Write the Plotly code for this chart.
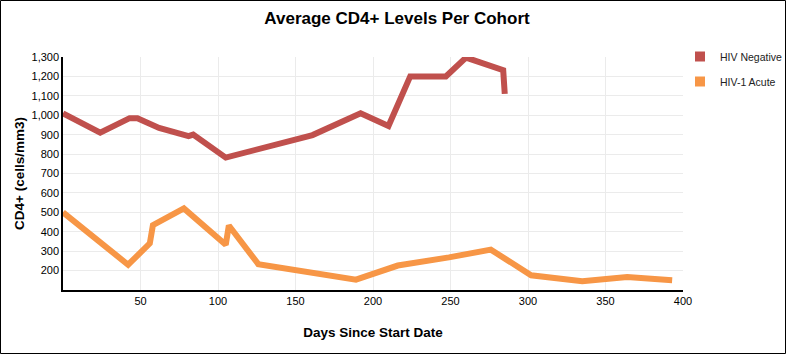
import plotly.graph_objects as go

# ---- data ----
neg_days = [0, 24, 43, 48, 62, 81, 84, 105, 161, 192, 210, 224, 247, 260, 284, 285]
neg_cd4 = [1010, 910, 985, 985, 935, 892, 900, 782, 898, 1010, 945, 1200, 1200, 1297, 1232, 1110]

acute_days = [0, 42, 56, 58, 78, 105, 107, 126, 189, 216, 249, 276, 302, 335, 364, 393]
acute_cd4 = [500, 230, 340, 434, 520, 333, 432, 233, 153, 226, 268, 308, 176, 145, 167, 150]

series_names = ["HIV Negative", "HIV-1 Acute"]
series_colors = ["#C0504D", "#F79646"]

x_ticks = [50, 100, 150, 200, 250, 300, 350, 400]
y_ticks = [200, 300, 400, 500, 600, 700, 800, 900, 1000, 1100, 1200, 1300]

W, H = 786, 354
ML, MR, MT, MB = 63, 103, 57, 64
PW, PH = W - ML - MR, H - MT - MB

FONT = "Liberation Sans, Arial, sans-serif"

fig = go.Figure()
for i, (xs, ys) in enumerate([(neg_days, neg_cd4), (acute_days, acute_cd4)]):
    fig.add_trace(go.Scatter(
        x=xs, y=ys, mode="lines", name=series_names[i],
        line=dict(color=series_colors[i], width=6),
        showlegend=False, hoverinfo="x+y",
    ))
    fig.add_trace(go.Scatter(
        x=[None], y=[None], mode="markers", name=series_names[i],
        marker=dict(symbol="square", size=10, color=series_colors[i]),
        legendgroup=series_names[i], showlegend=True,
    ))

def px_to_paper_x(px):
    return (px - ML) / PW

def px_to_paper_y(py):
    return (H - MB - py) / PH

fig.add_shape(type="rect", xref="paper", yref="paper",
              x0=px_to_paper_x(0.5), x1=px_to_paper_x(W - 0.5),
              y0=px_to_paper_y(H - 0.5), y1=px_to_paper_y(0.5),
              line=dict(color="black", width=1), layer="above")

fig.update_layout(
    width=W, height=H,
    margin=dict(l=ML, r=MR, t=MT, b=MB, pad=0, autoexpand=False),
    paper_bgcolor="white", plot_bgcolor="white",
    font=dict(family=FONT, color="black", size=11),
    title=dict(text="<b>Average CD4+ Levels Per Cohort</b>",
               x=397 / W, xref="container", xanchor="center",
               y=1 - 18 / H, yref="container", yanchor="middle",
               font=dict(size=17, family=FONT, color="black")),
    legend=dict(x=px_to_paper_x(680), xanchor="left",
                y=px_to_paper_y(42), yanchor="top",
                bgcolor="rgba(0,0,0,0)", borderwidth=0,
                font=dict(size=10.5, family=FONT, color="#222"),
                tracegroupgap=6, itemwidth=30),
    xaxis=dict(range=[0, 400], tickvals=x_ticks, ticks="",
               showgrid=True, gridcolor="#ebebeb", gridwidth=1,
               showline=True, linecolor="black", linewidth=1.5,
               zeroline=False, tickfont=dict(size=11), automargin=False,
               title=dict(text="<b>Days Since Start Date</b>",
                          font=dict(size=13.5), standoff=22)),
    yaxis=dict(range=[100, 1300], tickvals=y_ticks, tickformat=",d",
               ticks="", showgrid=True, gridcolor="#ebebeb", gridwidth=1,
               showline=True, linecolor="black", linewidth=1.5,
               zeroline=False, tickfont=dict(size=11), automargin=False,
               title=dict(text="<b>CD4+ (cells/mm3)</b>",
                          font=dict(size=13.5), standoff=4)),
)

fig.write_html("out.html")
